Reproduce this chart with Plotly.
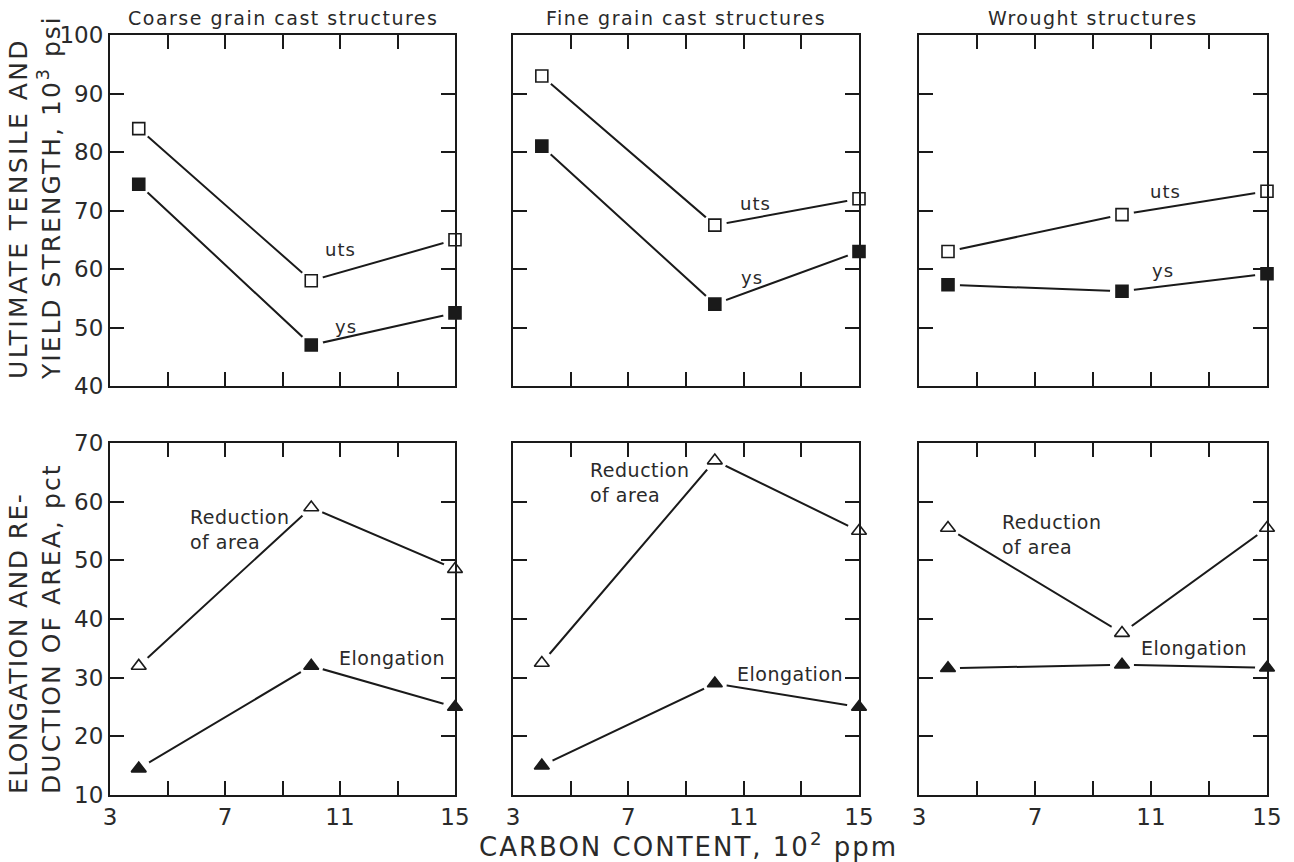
import plotly.graph_objects as go

# ---- data ----
carbon = [4, 10, 15]
panel_titles = ["Coarse grain cast structures", "Fine grain cast structures", "Wrought structures"]

uts = [[84, 58, 65], [93, 67.5, 72], [63, 69.3, 73.3]]
ys = [[74.5, 47, 52.5], [81, 54, 63], [57.3, 56.2, 59.2]]
red_area = [[32, 59, 48.5], [32.5, 67, 55], [55.5, 37.6, 55.5]]
elong = [[14.5, 32, 25], [15, 29, 25], [31.6, 32.2, 31.7]]

x_tickvals = [3, 5, 7, 9, 11, 13, 15]
x_ticktext = ["3", "", "7", "", "11", "", "15"]
top_tickvals = [40, 50, 60, 70, 80, 90, 100]
bot_tickvals = [10, 20, 30, 40, 50, 60, 70]

# label positions (data coords) for in-plot text
uts_lbl = [(11.0, 63.3), (11.4, 71.2), (11.5, 73.2)]
ys_lbl = [(11.2, 50.2), (11.3, 58.6), (11.4, 59.8)]
ra_lbl = [(5.7, 55.3), (5.6, 63.3), (5.8, 54.4)]
el_lbl = [(10.9, 33.4), (10.7, 30.6), (10.6, 35.0)]

W, H = 1294, 862
OFF = 8  # page body margin
col_px = [(110, 455), (513, 859), (919, 1267)]
top_px = (35, 386)
bot_px = (443, 795)

INK = "#1a1a1a"
TXT = "#2a2a2a"
FONT = "DejaVu Sans"

def px(v):
    return (v - OFF) / W

def py(v):
    return 1 - (v - OFF) / H

def spaced(s, ls):
    return f'<span style="letter-spacing:{ls}px">{s}</span>'

fig = go.Figure()
layout = dict(width=W, height=H, margin=dict(l=0, r=0, t=0, b=0, autoexpand=False),
              template="none",
              paper_bgcolor="white", plot_bgcolor="white", showlegend=False,
              font=dict(family=FONT, color=TXT))
annotations = []

def add_series(xa, ya, xs, yv, symbol):
    fig.add_trace(go.Scatter(x=xs, y=yv, mode="lines", line=dict(color=INK, width=2),
                             xaxis=xa, yaxis=ya, cliponaxis=False, hoverinfo="skip"))
    fig.add_trace(go.Scatter(x=xs, y=yv, mode="markers",
                             marker=dict(symbol="circle", size=24, color="white", line=dict(width=0)),
                             xaxis=xa, yaxis=ya, cliponaxis=False, hoverinfo="skip"))
    filled = not symbol.endswith("-open")
    base = symbol.replace("-open", "")
    fig.add_trace(go.Scatter(x=xs, y=yv, mode="markers",
                             marker=dict(symbol=base, size=12 if base == "square" else 13,
                                         color=INK if filled else "white",
                                         line=dict(color=INK, width=1.6)),
                             xaxis=xa, yaxis=ya, cliponaxis=False))

idx = 0
for row in range(2):
    for col in range(3):
        idx += 1
        xa = "x" if idx == 1 else f"x{idx}"
        ya = "y" if idx == 1 else f"y{idx}"
        xkey = "xaxis" if idx == 1 else f"xaxis{idx}"
        ykey = "yaxis" if idx == 1 else f"yaxis{idx}"
        x0, x1 = col_px[col]
        pyr = top_px if row == 0 else bot_px
        common = dict(ticks="inside", ticklen=14, tickwidth=1.6, tickcolor=INK,
                      showline=True, linewidth=2, linecolor=INK, mirror="ticks",
                      showgrid=False, zeroline=False, automargin=False,
                      tickfont=dict(size=23, color=TXT, family=FONT))
        layout[xkey] = dict(domain=[px(x0), px(x1)], range=[3, 15], anchor=ya,
                            tickvals=x_tickvals, ticktext=x_ticktext,
                            showticklabels=(row == 1), **common)
        layout[ykey] = dict(domain=[py(pyr[1]), py(pyr[0])],
                            range=[40, 100] if row == 0 else [10, 70],
                            anchor=xa, tickvals=top_tickvals if row == 0 else bot_tickvals,
                            showticklabels=(col == 0), **common)
        if row == 0:
            add_series(xa, ya, carbon, uts[col], "square-open")
            add_series(xa, ya, carbon, ys[col], "square")
            annotations.append(dict(x=uts_lbl[col][0], y=uts_lbl[col][1], xref=xa, yref=ya,
                                    text=spaced("uts", 1), showarrow=False, xanchor="center",
                                    yanchor="middle", font=dict(size=18)))
            annotations.append(dict(x=ys_lbl[col][0], y=ys_lbl[col][1], xref=xa, yref=ya,
                                    text=spaced("ys", 1), showarrow=False, xanchor="center",
                                    yanchor="middle", font=dict(size=18)))
            annotations.append(dict(x=px((x0 + x1) / 2), y=py(18), xref="paper", yref="paper",
                                    text=spaced(panel_titles[col], 1.5), showarrow=False,
                                    xanchor="center", yanchor="middle", font=dict(size=19)))
        else:
            add_series(xa, ya, carbon, red_area[col], "triangle-up-open")
            add_series(xa, ya, carbon, elong[col], "triangle-up")
            annotations.append(dict(x=ra_lbl[col][0], y=ra_lbl[col][1], xref=xa, yref=ya,
                                    text=spaced("Reduction", 0.5) + "<br>" + spaced("of area", 0.5),
                                    showarrow=False, align="left",
                                    xanchor="left", yanchor="middle", font=dict(size=19)))
            annotations.append(dict(x=el_lbl[col][0], y=el_lbl[col][1], xref=xa, yref=ya,
                                    text=spaced("Elongation", 0.5), showarrow=False, xanchor="left",
                                    yanchor="middle", font=dict(size=19)))

annotations.append(dict(x=px(35), y=py(198), xref="paper", yref="paper", textangle=-90,
                        text=spaced("ULTIMATE TENSILE AND", 2.4) + "<br>"
                        + spaced("YIELD STRENGTH, 10<sup>3</sup> psi", 2.0),
                        showarrow=False, xanchor="center", yanchor="middle", align="left",
                        font=dict(size=25, color=TXT)))
annotations.append(dict(x=px(35), y=py(629), xref="paper", yref="paper", textangle=-90,
                        text=spaced("ELONGATION AND RE-", 1.4) + "<br>"
                        + spaced("DUCTION OF AREA, pct", 2.1),
                        showarrow=False, xanchor="center", yanchor="middle", align="left",
                        font=dict(size=25, color=TXT)))
annotations.append(dict(x=px(688), y=py(845), xref="paper", yref="paper",
                        text=spaced("CARBON CONTENT, 10<sup>2</sup> ppm", 2),
                        showarrow=False, xanchor="center", yanchor="middle",
                        font=dict(size=26, color=TXT)))

layout["annotations"] = annotations
fig.update_layout(**layout)
fig.write_html("out.html")
